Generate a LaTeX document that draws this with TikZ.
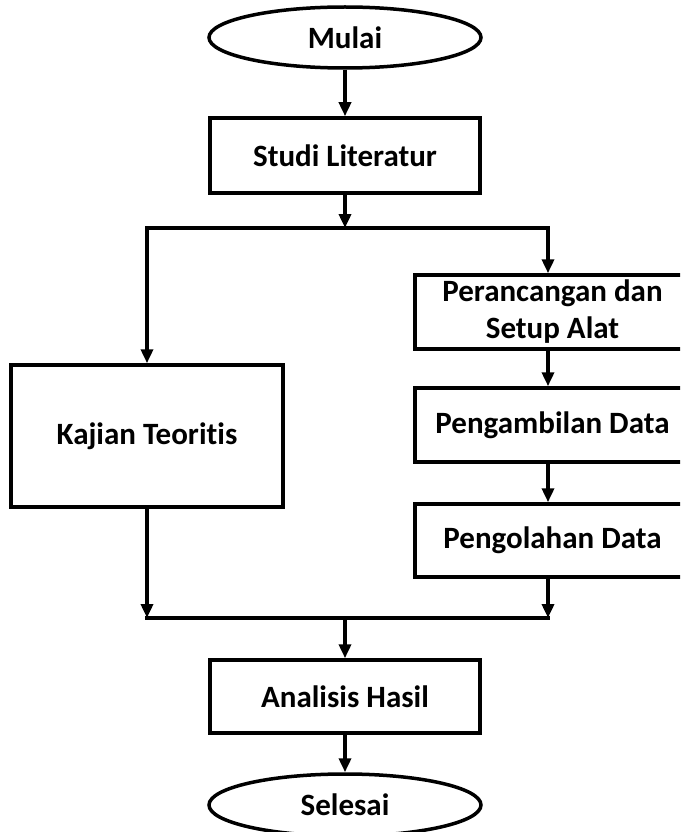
\documentclass[tikz,border=0pt]{standalone}
\usepackage{fontspec}
\setmainfont{Carlito}[Ligatures=NoCommon]
\usetikzlibrary{shapes.geometric,arrows.meta,calc}
\begin{document}
\begin{tikzpicture}[x=1pt,y=-1pt,
  lbl/.style={font=\bfseries\fontsize{31}{37}\selectfont, line width=3.5pt, draw=black, inner sep=0pt, align=center},
  terminal/.style={lbl, ellipse, minimum width=272pt, minimum height=61pt},
  box/.style={lbl, rectangle},
  arr/.style={line width=3.5pt, -{Triangle[length=14pt,width=12pt]}},
  ln/.style={line width=3.5pt, line cap=rect}]
\clip (0,0) rectangle (680,832);
\fill[white] (0,0) rectangle (680,832);
\node[terminal] (mulai) at (345,37.5) {Mulai};
\node[box, minimum width=270pt, minimum height=75pt] (studi) at (345,155.5) {Studi Literatur};
\node[box, minimum width=272pt, minimum height=142pt] (kajian) at (147,436) {Kajian Teoritis};
\node[box, minimum width=275pt, minimum height=74pt] (peran) at (552.5,312) {Perancangan dan\\Setup Alat};
\node[box, minimum width=275pt, minimum height=74pt] (ambil) at (552.5,425) {Pengambilan Data};
\node[box, minimum width=275pt, minimum height=73pt] (olah) at (552.5,540.5) {Pengolahan Data};
\node[box, minimum width=270pt, minimum height=73pt] (analisis) at (345,696.5) {Analisis Hasil};
\node[terminal, minimum height=62pt] (selesai) at (345,805) {Selesai};
\coordinate (splitl) at (147,228);
\coordinate (splitm) at (345,228);
\coordinate (splitr) at (548,228);
\coordinate (mergel) at (147,618);
\coordinate (mergem) at (345,618);
\coordinate (merger) at (548,618);
\draw[arr] (mulai.south) -- (studi.north);
\draw[arr] (studi.south) -- (splitm);
\draw[ln] (splitl) -- (splitr);
\draw[arr] (splitl) -- (kajian.north);
\draw[arr] (splitr) -- (splitr |- peran.north);
\draw[arr] (peran.south -| splitr) -- (ambil.north -| splitr);
\draw[arr] (ambil.south -| splitr) -- (olah.north -| splitr);
\draw[arr] (kajian.south) -- (mergel);
\draw[arr] (olah.south -| splitr) -- (merger);
\draw[ln] (mergel) -- (merger);
\draw[arr] (mergem) -- (analisis.north);
\draw[arr] (analisis.south) -- (selesai.north);
\end{tikzpicture}
\end{document}
